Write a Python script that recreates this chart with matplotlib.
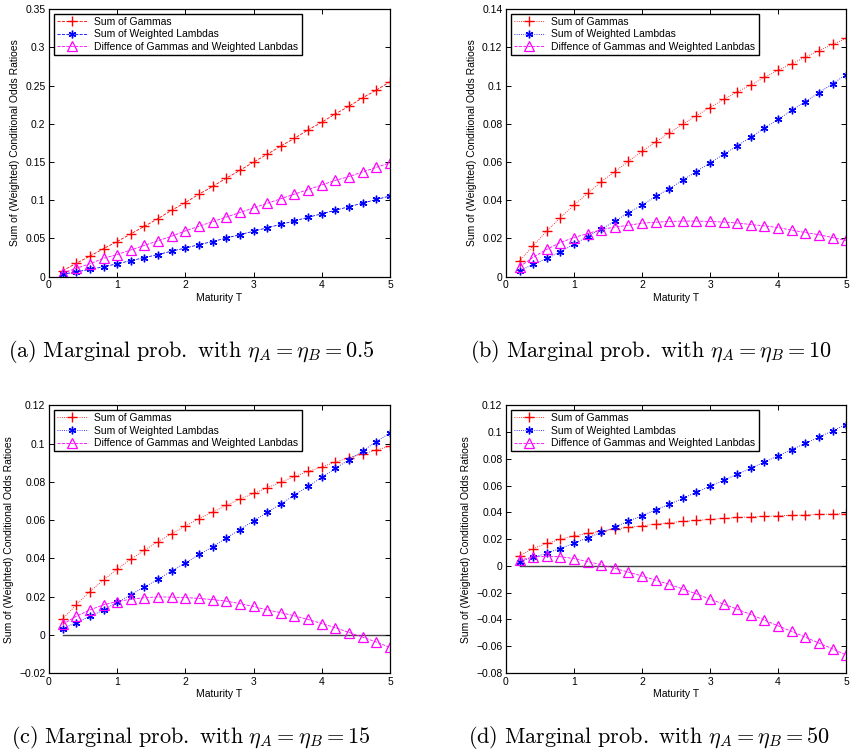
import numpy as np
import matplotlib.pyplot as plt
from matplotlib.ticker import FuncFormatter, MultipleLocator

# --- data ---
T = [0.2, 0.4, 0.6, 0.8, 1.0, 1.2, 1.4, 1.6, 1.8, 2.0, 2.2, 2.4, 2.6,
     2.8, 3.0, 3.2, 3.4, 3.6, 3.8, 4.0, 4.2, 4.4, 4.6, 4.8, 5.0]

# weighted lambdas are the same in all four panels
lambda_sum = [0.0032, 0.0064, 0.0096, 0.013, 0.017, 0.021, 0.025, 0.029, 0.0335,
              0.0375, 0.042, 0.046, 0.0506, 0.055, 0.0596, 0.064, 0.0685, 0.073,
              0.0777, 0.0823, 0.087, 0.0916, 0.0962, 0.101, 0.1056]

gamma_a = [0.0079, 0.0175, 0.027, 0.0367, 0.046, 0.056, 0.066, 0.076, 0.087,
           0.097, 0.108, 0.118, 0.129, 0.139, 0.150, 0.160, 0.171, 0.181,
           0.192, 0.202, 0.213, 0.223, 0.234, 0.244, 0.255]
diff_a = [0.0047, 0.011, 0.017, 0.024, 0.029, 0.035, 0.041, 0.047, 0.053,
          0.060, 0.066, 0.072, 0.078, 0.084, 0.090, 0.096, 0.102, 0.108,
          0.114, 0.120, 0.126, 0.131, 0.137, 0.143, 0.149]

gamma_b = [0.0082, 0.0162, 0.0239, 0.0309, 0.0375, 0.0436, 0.0496, 0.055, 0.0604,
           0.0655, 0.0705, 0.0752, 0.0798, 0.0843, 0.0885, 0.0927, 0.0967, 0.1004,
           0.1042, 0.1079, 0.1113, 0.1149, 0.1182, 0.1215, 0.1246]
diff_b = [0.0052, 0.0102, 0.0143, 0.0179, 0.0205, 0.0226, 0.0246, 0.026, 0.0269,
          0.028, 0.0285, 0.0289, 0.0291, 0.0291, 0.0289, 0.0286, 0.0281, 0.0273,
          0.0266, 0.0257, 0.0244, 0.0231, 0.022, 0.0205, 0.019]

gamma_c = [0.0083, 0.0157, 0.0226, 0.0287, 0.0343, 0.0395, 0.0443, 0.0487, 0.0529,
           0.0569, 0.0607, 0.0642, 0.0677, 0.071, 0.0739, 0.0769, 0.0798, 0.0828,
           0.0854, 0.0878, 0.0903, 0.0927, 0.0944, 0.0967, 0.0986]
diff_c = [0.0054, 0.0097, 0.013, 0.0157, 0.0174, 0.0186, 0.0194, 0.0198, 0.0197,
          0.0195, 0.019, 0.0184, 0.0176, 0.0163, 0.0148, 0.013, 0.0116, 0.0099,
          0.008, 0.0059, 0.0037, 0.0012, -0.0012, -0.0038, -0.0066]

gamma_d = [0.0075, 0.0129, 0.0169, 0.0199, 0.0224, 0.0243, 0.0261, 0.0276, 0.0288,
           0.030, 0.0313, 0.0323, 0.0333, 0.034, 0.0348, 0.0355, 0.0362, 0.0367,
           0.037, 0.0375, 0.0378, 0.0381, 0.0385, 0.0388, 0.039]
diff_d = [0.0042, 0.0067, 0.0073, 0.0069, 0.0055, 0.0033, 0.0009, -0.0018, -0.0046,
          -0.0075, -0.0106, -0.0137, -0.0172, -0.0209, -0.0248, -0.0285, -0.0323,
          -0.0363, -0.0405, -0.0447, -0.0489, -0.0532, -0.0576, -0.0619, -0.0665]

panels = [
    # gamma, diff, line style of the two sums, y limits, y step, zero line, eta, tag
    (gamma_a, diff_a, '--', (0, 0.35), 0.05, False, '0.5', '(a)'),
    (gamma_b, diff_b, ':', (0, 0.14), 0.02, False, '10', '(b)'),
    (gamma_c, diff_c, ':', (-0.02, 0.12), 0.02, True, '15', '(c)'),
    (gamma_d, diff_d, ':', (-0.08, 0.12), 0.02, True, '50', '(d)'),
]

plt.rcParams['font.family'] = ['Liberation Sans', 'DejaVu Sans']
plt.rcParams['mathtext.fontset'] = 'cm'

fig = plt.figure(figsize=(8.59, 7.52), dpi=100)

axes_pos = [
    [0.057, 0.632, 0.397, 0.356],
    [0.589, 0.632, 0.396, 0.356],
    [0.057, 0.105, 0.397, 0.356],
    [0.589, 0.105, 0.396, 0.356],
]
caption_pos = [(0.223, 0.532), (0.758, 0.532), (0.222, 0.019), (0.756, 0.019)]


def matlab_fmt(v, pos):
    s = '%g' % round(v, 6)
    return s.replace('-', '\u2212')


for (gam, dif, ls, ylim, ystep, zero, eta, tag), pos, cpos in zip(panels, axes_pos, caption_pos):
    ax = fig.add_axes(pos)
    if zero:
        ax.plot([T[0], T[-1]], [0, 0], color='#444444', lw=1.0, zorder=1)
    ax.plot(T, gam, ls, color='red', lw=0.6, marker='+', ms=7, mew=1.0,
            label='Sum of Gammas')
    ax.plot(T, lambda_sum, ls, color='blue', lw=0.6, marker=(6, 2, 0), ms=5.5, mew=1.0,
            label='Sum of Weighted Lambdas')
    ax.plot(T, dif, '--', color='magenta', lw=0.6, marker='^', ms=6.5, mew=0.9,
            mfc='none', label='Diffence of Gammas and Weighted Lanbdas')

    ax.set_xlim(0, 5)
    ax.set_ylim(*ylim)
    ax.xaxis.set_major_locator(MultipleLocator(1))
    ax.yaxis.set_major_locator(MultipleLocator(ystep))
    ax.yaxis.set_major_formatter(FuncFormatter(matlab_fmt))
    ax.tick_params(direction='in', top=True, right=True, length=3.5, width=0.7,
                   labelsize=7.5, pad=2.5)
    for sp in ax.spines.values():
        sp.set_linewidth(0.9)
    ax.set_xlabel('Maturity T', fontsize=7.5, labelpad=2)
    ax.set_ylabel('Sum of (Weighted) Conditional Odds Ratioes', fontsize=7.5, labelpad=4)

    leg = ax.legend(loc='upper left', fontsize=7.5, frameon=True, fancybox=False,
                    edgecolor='black', framealpha=1, borderaxespad=0.45,
                    handlelength=3.0, handletextpad=0.6, labelspacing=0.25,
                    borderpad=0.3, numpoints=1)
    leg.get_frame().set_linewidth(1.0)

    fig.text(cpos[0], cpos[1],
             r'$\mathrm{' + tag + r'\ Marginal\ prob.\ with\ }\eta_A=\eta_B=' + eta + '$',
             ha='center', va='center', fontsize=16)

fig.savefig('out.png', dpi=100)
